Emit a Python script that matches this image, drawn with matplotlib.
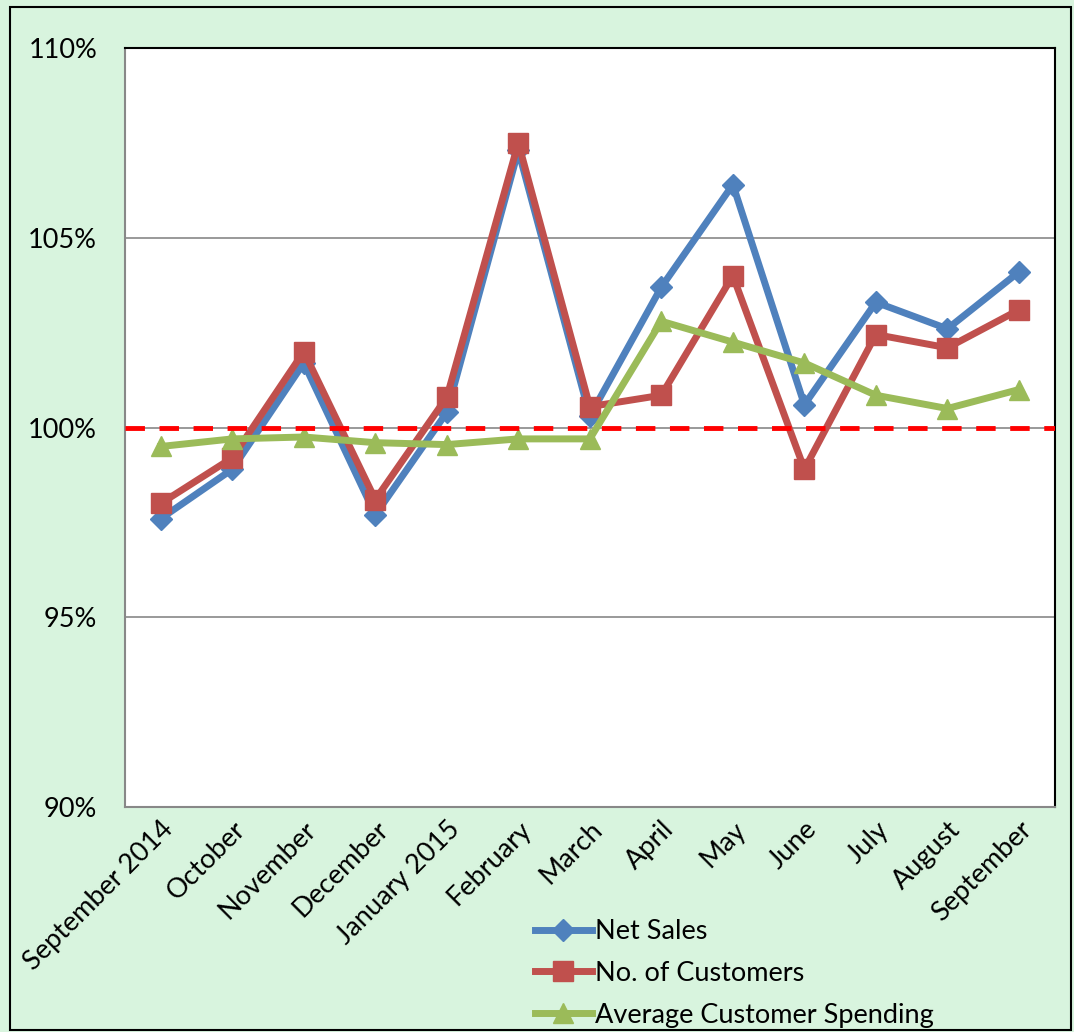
import matplotlib.pyplot as plt
from matplotlib.ticker import FuncFormatter

plt.rcParams['font.family'] = ['Lato', 'DejaVu Sans']

months = ["September 2014", "October", "November", "December", "January 2015",
          "February", "March", "April", "May", "June", "July", "August", "September"]
net_sales = [97.6, 98.9, 101.7, 97.7, 100.4, 107.3, 100.3, 103.7, 106.4, 100.6, 103.3, 102.6, 104.1]
customers = [98.0, 99.2, 102.0, 98.1, 100.8, 107.5, 100.55, 100.85, 104.0, 98.9, 102.45, 102.1, 103.1]
spending = [99.5, 99.7, 99.75, 99.6, 99.55, 99.7, 99.7, 102.8, 102.25, 101.7, 100.85, 100.5, 101.0]

fig = plt.figure(figsize=(10.74, 10.32), dpi=100, facecolor="#D8F4DE")
fig.patches.append(plt.Rectangle((0.009, 0.002), 0.988, 0.991, transform=fig.transFigure,
                                 fill=False, edgecolor="black", linewidth=1.5))
ax = fig.add_axes([0.1164, 0.218, 0.8656, 0.7355])
ax.set_facecolor("white")

x = list(range(len(months)))
ax.plot(x, net_sales, color="#4F81BD", linewidth=5, marker="D", markersize=11, label="Net Sales", zorder=3)
ax.plot(x, customers, color="#C0504D", linewidth=5, marker="s", markersize=15, label="No. of Customers", zorder=4)
ax.plot(x, spending, color="#9BBB59", linewidth=5, marker="^", markersize=15, label="Average Customer Spending", zorder=5)
ax.axhline(100, color="#FF0000", linewidth=3.5, linestyle=(0, (4, 3)), zorder=6)

ax.set_xlim(-0.5, len(months) - 0.5)
ax.set_ylim(90, 110)
ax.set_yticks([90, 95, 100, 105, 110])
ax.yaxis.set_major_formatter(FuncFormatter(lambda v, p: f"{v:.0f}%"))
ax.grid(axis="y", color="#888888", linewidth=1.2, zorder=1)
ax.set_xticks(x)
ax.set_xticklabels(months, rotation=45, ha="right", rotation_mode="anchor", fontsize=19.5)
ax.tick_params(axis="y", labelsize=19.5, length=0, pad=20)
ax.tick_params(axis="x", length=0, pad=7)
for s in ["left", "bottom"]:
    ax.spines[s].set_color("#888888")
    ax.spines[s].set_linewidth(1.5)
for s in ["top", "right"]:
    ax.spines[s].set_color("black")
    ax.spines[s].set_linewidth(1.5)

fig.legend(loc="upper left", bbox_to_anchor=(0.488, 0.12), frameon=False, fontsize=19.5,
           handlelength=2.1, handletextpad=0.12, labelspacing=0.62, borderaxespad=0)

fig.savefig("out.png", dpi=100, facecolor=fig.get_facecolor())
